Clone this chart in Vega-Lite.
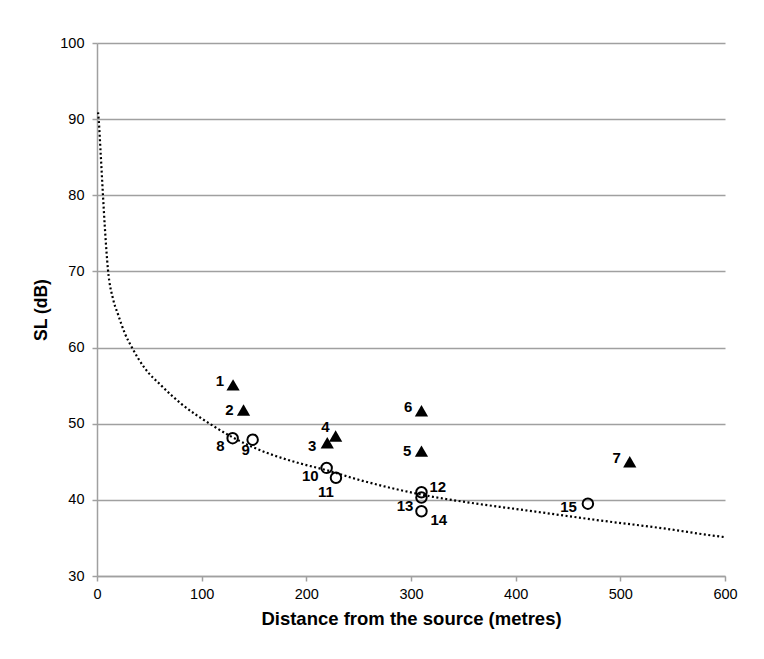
{
  "$schema": "https://vega.github.io/schema/vega-lite/v6.json",
  "width": 628,
  "height": 533,
  "autosize": {"type": "none"},
  "padding": {"left": 97, "top": 43, "right": 39, "bottom": 83},
  "background": "white",
  "config": {
    "view": {"stroke": null},
    "font": "Liberation Sans",
    "axis": {
      "labelFont": "Liberation Sans",
      "labelFontSize": 14.5,
      "labelColor": "#000000",
      "labelFlush": false,
      "labelOverlap": false,
      "titleFont": "Liberation Sans",
      "titleFontWeight": "bold",
      "titleColor": "#000000",
      "domainColor": "#a0a0a0",
      "domainWidth": 1.5,
      "tickColor": "#a0a0a0",
      "tickWidth": 1.5,
      "tickSize": 5,
      "gridColor": "#a0a0a0",
      "gridWidth": 1.5
    }
  },
  "datasets": {
    "pts": [
      {"id": 1, "distance": 130, "sl": 55.1, "type": "triangle"},
      {"id": 2, "distance": 140, "sl": 51.8, "type": "triangle"},
      {"id": 3, "distance": 220, "sl": 47.5, "type": "triangle"},
      {"id": 4, "distance": 228, "sl": 48.4, "type": "triangle"},
      {"id": 5, "distance": 310, "sl": 46.4, "type": "triangle"},
      {"id": 6, "distance": 310, "sl": 51.7, "type": "triangle"},
      {"id": 7, "distance": 509, "sl": 45.0, "type": "triangle"},
      {"id": 8, "distance": 129.6, "sl": 48.1, "type": "circle"},
      {"id": 9, "distance": 148.7, "sl": 47.9, "type": "circle"},
      {"id": 10, "distance": 219.4, "sl": 44.2, "type": "circle"},
      {"id": 11, "distance": 228.3, "sl": 42.9, "type": "circle"},
      {"id": 12, "distance": 310, "sl": 41.0, "type": "circle"},
      {"id": 13, "distance": 310, "sl": 40.3, "type": "circle"},
      {"id": 14, "distance": 310, "sl": 38.5, "type": "circle"},
      {"id": 15, "distance": 469, "sl": 39.5, "type": "circle"}
    ],
    "trend": [
      {"distance": 1, "sl": 90.9},
      {"distance": 1.6, "sl": 90},
      {"distance": 3.5, "sl": 85.5},
      {"distance": 5.7, "sl": 80},
      {"distance": 7.4, "sl": 76},
      {"distance": 10.5, "sl": 70.2},
      {"distance": 15.3, "sl": 66.4},
      {"distance": 20, "sl": 64.4},
      {"distance": 26.5, "sl": 61.9},
      {"distance": 33.4, "sl": 60.0},
      {"distance": 45.6, "sl": 57.3},
      {"distance": 61.5, "sl": 55.0},
      {"distance": 80.6, "sl": 52.6},
      {"distance": 107.7, "sl": 50.0},
      {"distance": 128.4, "sl": 48.3},
      {"distance": 161.8, "sl": 46.2},
      {"distance": 193.7, "sl": 44.8},
      {"distance": 219.2, "sl": 43.9},
      {"distance": 251, "sl": 42.6},
      {"distance": 289.2, "sl": 41.3},
      {"distance": 321, "sl": 40.4},
      {"distance": 352.9, "sl": 39.7},
      {"distance": 416.6, "sl": 38.5},
      {"distance": 480.3, "sl": 37.3},
      {"distance": 544, "sl": 36.2},
      {"distance": 588.5, "sl": 35.3},
      {"distance": 600, "sl": 35.1}
    ]
  },
  "encoding": {
    "x": {
      "field": "distance",
      "type": "quantitative",
      "scale": {"domain": [0, 600], "nice": false, "zero": false},
      "axis": {
        "values": [0, 100, 200, 300, 400, 500, 600],
        "grid": false,
        "labelPadding": 6,
        "title": "Distance from the source (metres)",
        "titleFontSize": 18.5,
        "titlePadding": 9
      }
    },
    "y": {
      "field": "sl",
      "type": "quantitative",
      "scale": {"domain": [30, 100], "nice": false, "zero": false},
      "axis": {
        "values": [30, 40, 50, 60, 70, 80, 90, 100],
        "grid": true,
        "labelPadding": 8,
        "title": "SL (dB)",
        "titleFontSize": 17.5,
        "titlePadding": 9
      }
    }
  },
  "layer": [
    {
      "data": {"name": "trend"},
      "mark": {"type": "line", "color": "#000000", "strokeWidth": 2.2, "strokeDash": [2, 2.5], "interpolate": "monotone", "clip": true}
    },
    {
      "data": {"name": "pts"},
      "transform": [{"filter": "datum.type === 'triangle'"}],
      "mark": {"type": "point", "shape": "triangle-up", "filled": true, "color": "#000000", "size": 175, "opacity": 1}
    },
    {
      "data": {"name": "pts"},
      "transform": [{"filter": "datum.type === 'circle'"}],
      "mark": {"type": "point", "shape": "circle", "filled": false, "color": "#000000", "size": 110, "strokeWidth": 2, "opacity": 1}
    },
    {
      "data": {"name": "pts"},
      "transform": [{"filter": {"field": "id", "oneOf": [1, 6, 7]}}],
      "mark": {"type": "text", "align": "right", "baseline": "middle", "dx": -9, "dy": -4, "fontWeight": "bold", "fontSize": 15, "color": "#000000"},
      "encoding": {"text": {"field": "id"}}
    },
    {
      "data": {"name": "pts"},
      "transform": [{"filter": {"field": "id", "oneOf": [2, 5]}}],
      "mark": {"type": "text", "align": "right", "baseline": "middle", "dx": -10, "dy": 0, "fontWeight": "bold", "fontSize": 15, "color": "#000000"},
      "encoding": {"text": {"field": "id"}}
    },
    {
      "data": {"name": "pts"},
      "transform": [{"filter": {"field": "id", "oneOf": [3, 15]}}],
      "mark": {"type": "text", "align": "right", "baseline": "middle", "dx": -11, "dy": 3.5, "fontWeight": "bold", "fontSize": 15, "color": "#000000"},
      "encoding": {"text": {"field": "id"}}
    },
    {
      "data": {"name": "pts"},
      "transform": [{"filter": {"field": "id", "oneOf": [8, 10, 13]}}],
      "mark": {"type": "text", "align": "right", "baseline": "middle", "dx": -8, "dy": 8, "fontWeight": "bold", "fontSize": 15, "color": "#000000"},
      "encoding": {"text": {"field": "id"}}
    },
    {
      "data": {"name": "pts"},
      "transform": [{"filter": {"field": "id", "oneOf": [4]}}],
      "mark": {"type": "text", "align": "right", "baseline": "middle", "dx": -6, "dy": -9, "fontWeight": "bold", "fontSize": 15, "color": "#000000"},
      "encoding": {"text": {"field": "id"}}
    },
    {
      "data": {"name": "pts"},
      "transform": [{"filter": {"field": "id", "oneOf": [9]}}],
      "mark": {"type": "text", "align": "center", "baseline": "middle", "dx": -7, "dy": 10, "fontWeight": "bold", "fontSize": 15, "color": "#000000"},
      "encoding": {"text": {"field": "id"}}
    },
    {
      "data": {"name": "pts"},
      "transform": [{"filter": {"field": "id", "oneOf": [11]}}],
      "mark": {"type": "text", "align": "center", "baseline": "middle", "dx": -10, "dy": 14, "fontWeight": "bold", "fontSize": 15, "color": "#000000"},
      "encoding": {"text": {"field": "id"}}
    },
    {
      "data": {"name": "pts"},
      "transform": [{"filter": {"field": "id", "oneOf": [12]}}],
      "mark": {"type": "text", "align": "left", "baseline": "middle", "dx": 8, "dy": -5, "fontWeight": "bold", "fontSize": 15, "color": "#000000"},
      "encoding": {"text": {"field": "id"}}
    },
    {
      "data": {"name": "pts"},
      "transform": [{"filter": {"field": "id", "oneOf": [14]}}],
      "mark": {"type": "text", "align": "left", "baseline": "middle", "dx": 9, "dy": 9, "fontWeight": "bold", "fontSize": 15, "color": "#000000"},
      "encoding": {"text": {"field": "id"}}
    }
  ]
}
